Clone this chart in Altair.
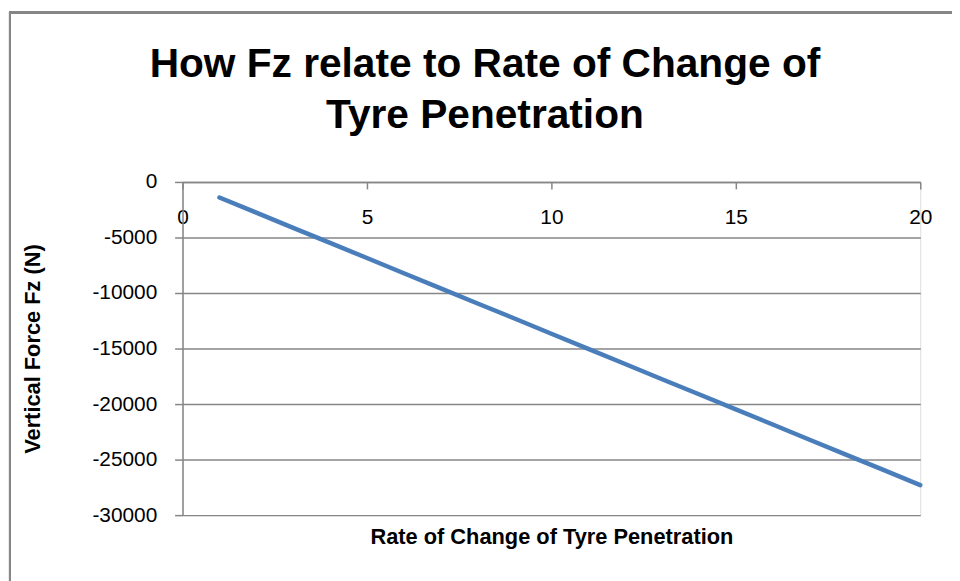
import altair as alt
import pandas as pd

rate = [1, 2, 3, 4, 5, 6, 7, 8, 9, 10, 11, 12, 13, 14, 15, 16, 17, 18, 19, 20]
fz = [-1400, -2760, -4130, -5490, -6850, -8220, -9580, -10940, -12300, -13670,
      -15030, -16390, -17760, -19120, -20480, -21840, -23210, -24570, -25930, -27300]
x_ticks = [0, 5, 10, 15, 20]
y_ticks = [0, -5000, -10000, -15000, -20000, -25000, -30000]

df = pd.DataFrame({"rate": rate, "fz": fz})

GRAY = "#868686"
FONT = "Liberation Sans"

line = alt.Chart(df).mark_line(color="#4a7ebb", strokeWidth=4.5, strokeCap="round").encode(
    x=alt.X("rate:Q",
            scale=alt.Scale(domain=[0, 20], nice=False),
            axis=alt.Axis(orient="bottom", offset=-336, values=x_ticks, grid=False,
                          domain=True, domainColor=GRAY, domainWidth=1.5,
                          ticks=True, tickColor=GRAY, tickWidth=1.5, tickSize=7,
                          labelPadding=18, labelFontSize=21, labelFont=FONT,
                          labelColor="#000000", labelFlush=False,
                          title="Rate of Change of Tyre Penetration",
                          titleFont=FONT, titleFontSize=22, titleFontWeight="bold",
                          titleColor="#000000", titleX=372, titleY=365,
                          titleBaseline="alphabetic")),
    y=alt.Y("fz:Q",
            scale=alt.Scale(domain=[-30000, 0], nice=False),
            axis=alt.Axis(orient="left", values=y_ticks, grid=True, gridColor=GRAY,
                          gridWidth=1.5, domain=True, domainColor=GRAY, domainWidth=1.5,
                          ticks=True, tickColor=GRAY, tickWidth=1.5, tickSize=8,
                          labelPadding=18, labelFontSize=21, labelFont=FONT,
                          labelColor="#000000", labelExpr="'' + datum.value",
                          title="Vertical Force Fz (N)", titleFont=FONT,
                          titleFontSize=22, titleFontWeight="bold", titleColor="#000000",
                          titleX=-151, titleY=168, titleBaseline="middle")),
)

border_top = alt.Chart(df).mark_rule(color=GRAY, strokeWidth=2).encode(
    x=alt.value(-174), x2=alt.value(800), y=alt.value(-171))
border_left = alt.Chart(df).mark_rule(color=GRAY, strokeWidth=2).encode(
    x=alt.value(-174), y=alt.value(-172), y2=alt.value(420))

chart = alt.layer(line, border_top, border_left).properties(
    width=744, height=336,
    autosize=alt.AutoSizeParams(type="none"),
    padding={"left": 176, "top": 173, "right": 32, "bottom": 64},
    title=alt.TitleParams(
        text=["How Fz relate to Rate of Change of", "Tyre Penetration"],
        font=FONT, fontSize=41, fontWeight="bold", color="#000000",
        lineHeight=52, anchor="middle", frame="group", dx=-67,
        baseline="bottom", offset=-169),
).configure_view(stroke=None).configure(background="white")

chart.save("out.html", embed_options={"renderer": "svg", "actions": False})
